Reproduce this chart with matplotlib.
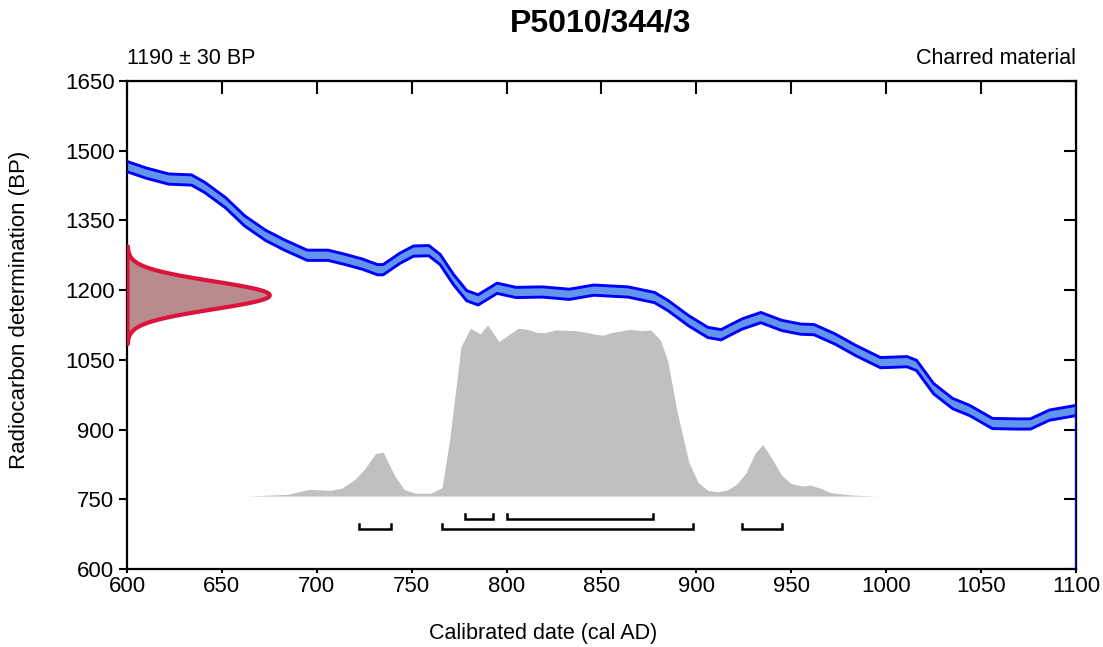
import numpy as np
import matplotlib
matplotlib.use('Agg')
import matplotlib.pyplot as plt

plt.rcParams['font.family'] = ['Liberation Sans', 'DejaVu Sans']

# radiocarbon determination
sample_name = 'P5010/344/3'
c14_mean = 1190
c14_sd = 30
material = 'Charred material'

# calibration curve (cal AD, BP) and its error
curve_years = [600, 610, 622, 634, 641, 652, 662, 673, 683, 695, 706, 715, 724, 732,
               735, 744, 751, 759, 765, 772, 779, 785, 795, 805, 819, 833, 846, 864,
               878, 885, 896, 906, 913, 924, 934, 945, 955, 962, 973, 984, 997, 1011,
               1016, 1025, 1035, 1044, 1056, 1069, 1076, 1086, 1100]
curve_bp = [1466, 1452, 1439, 1437, 1421, 1388, 1349, 1318, 1297, 1275, 1275, 1266, 1256, 1244,
            1244, 1269, 1284, 1285, 1266, 1223, 1188, 1179, 1204, 1195, 1196, 1191, 1200, 1196,
            1184, 1167, 1134, 1109, 1104, 1127, 1141, 1124, 1116, 1115, 1095, 1070, 1044, 1046,
            1038, 988, 956, 941, 913, 912, 912, 931, 941]
curve_err = 11

# calibrated probability (relative)
prob_years = [663, 685, 696, 707, 713, 720, 725, 731, 735, 741, 746, 752, 760, 766, 770,
              776, 781, 786, 790, 796, 801, 806, 811, 816, 820, 826, 836, 841, 847, 851,
              855, 865, 871, 876, 881, 885, 890, 896, 901, 906, 911, 916, 921, 926, 931,
              935, 940, 945, 950, 956, 960, 966, 971, 982, 995]
prob = [0.0, 0.01, 0.039, 0.033, 0.045, 0.097, 0.155, 0.249, 0.256, 0.12, 0.039, 0.016, 0.016,
        0.049, 0.33, 0.874, 0.981, 0.948, 1.0, 0.903, 0.942, 0.981, 0.975, 0.957, 0.955,
        0.971, 0.967, 0.959, 0.946, 0.94, 0.955, 0.975, 0.967, 0.971, 0.913, 0.786, 0.485,
        0.198, 0.078, 0.033, 0.025, 0.033, 0.068, 0.132, 0.252, 0.301, 0.214, 0.12, 0.072,
        0.058, 0.064, 0.043, 0.019, 0.006, 0.0]

# highest posterior density ranges
hpd_68 = [(778, 793), (800, 877)]
hpd_95 = [(722, 739), (766, 898), (924, 945)]

fig = plt.figure(figsize=(11.03, 6.47), dpi=100)
ax = fig.add_axes([0.1151, 0.1206, 0.8604, 0.7542])

# calibrated distribution
base = 757
ax.fill_between(prob_years, base, base + 368 * np.array(prob), color='#C0C0C0', lw=0, zorder=1)

# calibration curve band
cy = np.array(curve_years)
cb = np.array(curve_bp)
ax.fill_between(cy, cb - curve_err, cb + curve_err, color='#6495ED', lw=0, zorder=2)
ax.plot(cy, cb + curve_err, color='#0000FF', lw=2.1, zorder=3)
ax.plot(cy, cb - curve_err, color='#0000FF', lw=2.1, zorder=3)
ax.plot([1100, 1100], [600, cb[-1] + curve_err], color='#0000FF', lw=1.5, zorder=3)

# radiocarbon date on the y axis
bp_grid = np.linspace(c14_mean - 3.5 * c14_sd, c14_mean + 3.5 * c14_sd, 200)
dens = np.exp(-0.5 * ((bp_grid - c14_mean) / c14_sd) ** 2)
ax.fill_betweenx(bp_grid, 600, 600 + 75 * dens, facecolor='#B98A8E', edgecolor='#DC143C',
                 lw=3.0, zorder=4)

# ranges
def draw_ranges(ranges, y):
    for lo, hi in ranges:
        ax.plot([lo, lo, hi, hi], [y + 11, y, y, y + 11], color='black', lw=1.8,
                solid_joinstyle='miter', zorder=5)

draw_ranges(hpd_68, 707)
draw_ranges(hpd_95, 686)

ax.set_xlim(600, 1100)
ax.set_ylim(600, 1650)
xt = list(range(600, 1101, 50))
yt = list(range(600, 1651, 150))
ax.set_xticks(xt)
ax.set_yticks(yt)
ax.tick_params(axis='y', direction='out', length=6, width=1.5, labelsize=16, pad=3)
ax.tick_params(axis='x', direction='out', length=3, width=1.5, labelsize=16, pad=2)
for s in ax.spines.values():
    s.set_linewidth(1.6)

# inward ticks on top and right
top = ax.secondary_xaxis('top')
top.set_xticks(xt)
top.tick_params(direction='in', length=9, width=1.5, labelbottom=False, labeltop=False)
right = ax.secondary_yaxis('right')
right.set_yticks(yt)
right.tick_params(direction='in', length=9, width=1.5, labelleft=False, labelright=False)

fig.text(543 / 1103, 1 - 634 / 647, 'Calibrated date (cal AD)', fontsize=15.5,
         ha='center', va='center')
fig.text(20 / 1103, 1 - 310 / 647, 'Radiocarbon determination (BP)', fontsize=16,
         ha='center', va='center', rotation=90)
fig.text(601 / 1103, 1 - 24 / 647, sample_name, fontsize=23, fontweight='bold',
         ha='center', va='center')
ax.text(0.0, 1.025, '%d ± %d BP' % (c14_mean, c14_sd), transform=ax.transAxes,
        fontsize=15.5, ha='left', va='bottom')
ax.text(1.0, 1.025, material, transform=ax.transAxes, fontsize=15.5, ha='right', va='bottom')

plt.savefig('out.png', dpi=100)
